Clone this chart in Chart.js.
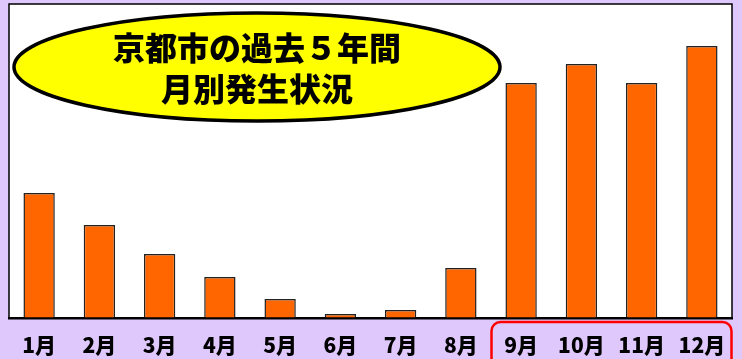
<!DOCTYPE html>
<html>
<head>
<meta charset="utf-8">
<script src="https://cdn.jsdelivr.net/npm/chart.js@4/dist/chart.umd.min.js"></script>
<style>
    html, body { margin: 0; padding: 0; background: #dfc8fb; }
    #wrap { width: 742px; height: 359px; }
</style>
</head>
<body>
<div id="wrap"><canvas id="myChart"></canvas></div>
<script>
const labels = ["1月", "2月", "3月", "4月", "5月", "6月", "7月", "8月", "9月", "10月", "11月", "12月"];
const counts = [125, 93, 64, 41, 19, 4, 8, 50, 235, 254, 235, 272];
const titleLines = ["京都市の過去５年間", "月別発生状況"];
const highlightFrom = "9月";

const JP = "'Noto Sans CJK JP', 'Noto Sans', sans-serif";

// white plot background + frame
const plotFrame = {
    id: "plotFrame",
    beforeDraw(chart) {
        const { ctx, chartArea: a } = chart;
        ctx.save();
        ctx.fillStyle = "#ffffff";
        ctx.fillRect(a.left, a.top, a.right - a.left, a.bottom - a.top);
        ctx.restore();
    },
    afterDraw(chart) {
        const { ctx, chartArea: a } = chart;
        ctx.save();
        ctx.strokeStyle = "#000";
        ctx.lineWidth = 1.5;
        ctx.strokeRect(a.left, a.top, a.right - a.left, a.bottom - a.top);
        ctx.restore();
    },
};

// yellow ellipse title + red box round the autumn months
const extras = {
    id: "extras",
    afterDraw(chart) {
        const { ctx, chartArea: a } = chart;
        const x = chart.scales.x;
        ctx.save();

        ctx.beginPath();
        ctx.ellipse(257, 67, 243, 54, 0, 0, Math.PI * 2);
        ctx.fillStyle = "#ffff00";
        ctx.fill();
        ctx.lineWidth = 3.5;
        ctx.strokeStyle = "#000";
        ctx.stroke();

        ctx.fillStyle = "#000";
        ctx.textAlign = "center";
        ctx.textBaseline = "middle";
        ctx.font = "900 32px " + JP;
        ctx.fillText(titleLines[0], 257, 48);
        ctx.fillText(titleLines[1], 257, 89);

        const i = labels.indexOf(highlightFrom);
        const half = (x.getPixelForValue(1) - x.getPixelForValue(0)) / 2;
        const left = x.getPixelForValue(i) - half + 0.5;
        const right = a.right - 0.5;
        const top = a.bottom + 4;
        ctx.beginPath();
        ctx.roundRect(left, top, right - left, 60, 9);
        ctx.lineWidth = 2.5;
        ctx.strokeStyle = "#ff0000";
        ctx.stroke();

        ctx.restore();
    },
};

const config = {
    type: "bar",
    data: {
        labels: labels,
        datasets: [
            {
                data: counts,
                backgroundColor: "#ff6600",
                borderColor: "#222",
                borderWidth: 1.5,
                barPercentage: 0.52,
                categoryPercentage: 1,
            },
        ],
    },
    options: {
        responsive: true,
        maintainAspectRatio: false,
        animation: false,
        layout: { padding: { left: 9, right: 10, top: 4, bottom: 0 } },
        plugins: {
            legend: { display: false },
            tooltip: { enabled: false },
        },
        scales: {
            x: {
                grid: { display: false, drawTicks: false },
                border: { display: true, color: "#000", width: 2.5 },
                ticks: {
                    color: "#000",
                    padding: 14,
                    maxRotation: 0,
                    autoSkip: false,
                    font: { family: JP, size: 21, weight: "900" },
                },
                afterFit(scale) {
                    scale.height = 41;
                },
            },
            y: {
                display: false,
                min: 0,
                max: 314,
            },
        },
    },
    plugins: [plotFrame, extras],
};

var myChart = new Chart(document.getElementById("myChart"), config);
</script>
</body>
</html>
